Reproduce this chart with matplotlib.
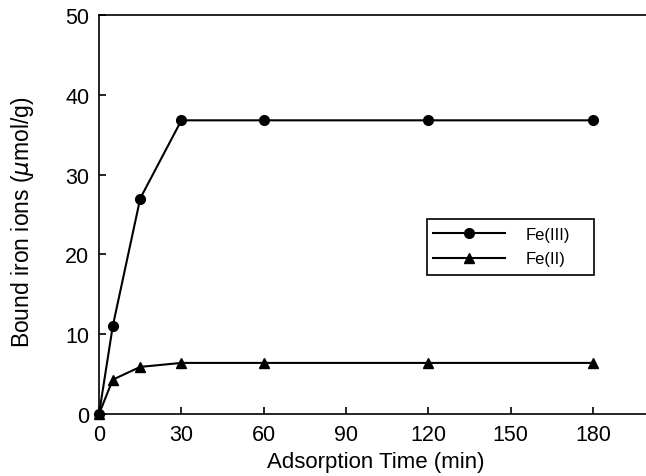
import matplotlib
matplotlib.use("Agg")
import matplotlib.pyplot as plt
from matplotlib.patches import Rectangle

plt.rcParams['font.family'] = ['Liberation Sans', 'DejaVu Sans']

# adsorption time (min)
time = [0, 5, 15, 30, 60, 120, 180]
# bound iron (umol/g)
fe3 = [0, 11.0, 27.0, 36.8, 36.8, 36.8, 36.8]
fe2 = [0, 4.3, 5.9, 6.4, 6.4, 6.4, 6.4]

xticks = [0, 30, 60, 90, 120, 150, 180]
yticks = [0, 10, 20, 30, 40, 50]

fig = plt.figure(figsize=(6.46, 4.77), dpi=100)
ax = fig.add_axes([0.1533, 0.13, 0.8467, 0.8365])

ax.plot(time, fe3, color='black', lw=1.5, marker='o', ms=7, label='Fe(III)', clip_on=False)
ax.plot(time, fe2, color='black', lw=1.5, marker='^', ms=7, label='Fe(II)', clip_on=False)

ax.set_xlim(0, 199.3)
ax.set_ylim(0, 50)
ax.set_xticks(xticks)
ax.set_yticks(yticks)
ax.tick_params(direction='in', length=5, width=1.2, labelsize=15.5, pad=7)
ax.spines['right'].set_visible(False)
for s in ['left', 'bottom', 'top']:
    ax.spines[s].set_linewidth(1.2)

ax.set_xlabel('Adsorption Time (min)', fontsize=16)
ax.set_ylabel(r'Bound iron ions ($\mu$mol/g)', fontsize=16.5)
ax.xaxis.set_label_coords(0.5055, -0.094)
ax.yaxis.set_label_coords(-0.1152, 0.4825)

# legend: frameless entries inside a drawn box
ax.legend(loc='center left', bbox_to_anchor=(0.6106, 0.419), borderaxespad=0,
          borderpad=0, fontsize=12, frameon=False,
          handlelength=4.32, labelspacing=0.56, handletextpad=1.26)
ax.add_patch(Rectangle((0.5996, 0.348), 0.3053, 0.14, transform=ax.transAxes,
                       fill=False, edgecolor='black', lw=1.2, zorder=5))

fig.savefig('out.png', dpi=100)
